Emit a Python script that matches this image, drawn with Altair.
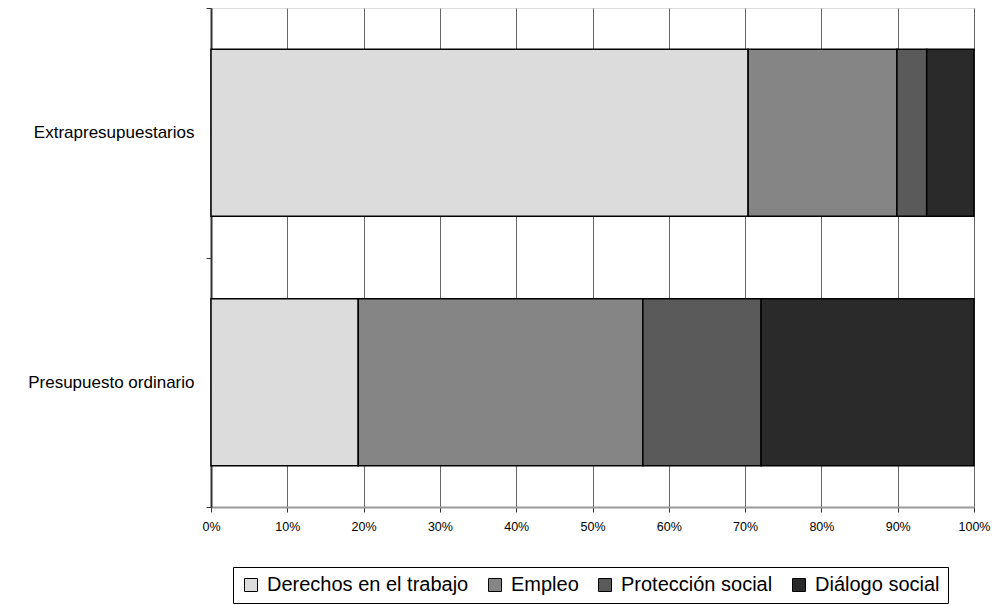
import altair as alt
import pandas as pd

# Budget shares by source of funds and strategic objective (percent)
categories = ["Extrapresupuestarios", "Presupuesto ordinario"]
series = ["Derechos en el trabajo", "Empleo", "Protección social", "Diálogo social"]
extrapresupuestarios = [70.4, 19.5, 3.9, 6.2]
presupuesto_ordinario = [19.3, 37.3, 15.5, 27.9]
tick_values = [0, 0.1, 0.2, 0.3, 0.4, 0.5, 0.6, 0.7, 0.8, 0.9, 1.0]
fill_colors = ["#dcdcdc", "#858585", "#5a5a5a", "#2a2a2a"]

rows = []
for cat, vals in zip(categories, [extrapresupuestarios, presupuesto_ordinario]):
    for i, (s, v) in enumerate(zip(series, vals)):
        rows.append({"categoria": cat, "objetivo": s, "valor": v, "orden": i})
df = pd.DataFrame(rows)

FONT = "Liberation Sans"

chart = (
    alt.Chart(df)
    .mark_bar(height=alt.RelativeBandSize(0.67), stroke="black", strokeWidth=1.5)
    .encode(
        y=alt.Y(
            "categoria:N",
            sort=categories,
            title=None,
            scale=alt.Scale(paddingInner=0, paddingOuter=0),
            axis=alt.Axis(
                tickBand="extent",
                tickSize=5,
                tickColor="#333333",
                domainColor="#333333",
                domainWidth=2,
                labelFontSize=17,
                labelColor="black",
                labelPadding=12,
                labelFont=FONT,
                labelLimit=300,
                grid=False,
            ),
        ),
        x=alt.X(
            "valor:Q",
            stack="normalize",
            title=None,
            scale=alt.Scale(domain=[0, 1]),
            axis=alt.Axis(
                format=".0%",
                values=tick_values,
                tickSize=5,
                tickColor="#333333",
                domainColor="#9a9a9a",
                domainWidth=2,
                labelFontSize=12.5,
                labelColor="black",
                labelPadding=8,
                labelFont=FONT,
                grid=True,
                gridColor="#666666",
                gridWidth=1,
                labelFlush=False,
            ),
        ),
        color=alt.Color(
            "objetivo:N",
            sort=series,
            scale=alt.Scale(domain=series, range=fill_colors),
            legend=alt.Legend(
                title=None,
                orient="none",
                legendX=22,
                legendY=559,
                direction="horizontal",
                strokeColor="black",
                fillColor="white",
                padding=8,
                labelFontSize=20,
                labelFont=FONT,
                labelColor="black",
                labelLimit=400,
                symbolType="square",
                symbolSize=169,
                symbolStrokeColor="black",
                symbolStrokeWidth=1,
                columnPadding=16,
                labelOffset=6,
            ),
        ),
        order=alt.Order("orden:Q"),
    )
    .properties(
        width=763,
        height=499,
        autosize=alt.AutoSizeParams(type="none"),
        padding={"left": 211, "top": 8, "right": 18, "bottom": 98},
    )
    .configure_view(stroke="#a8a8a8", strokeWidth=2)
    .configure(background="white")
)

chart.save("out.html", embed_options={"renderer": "svg", "actions": False})
